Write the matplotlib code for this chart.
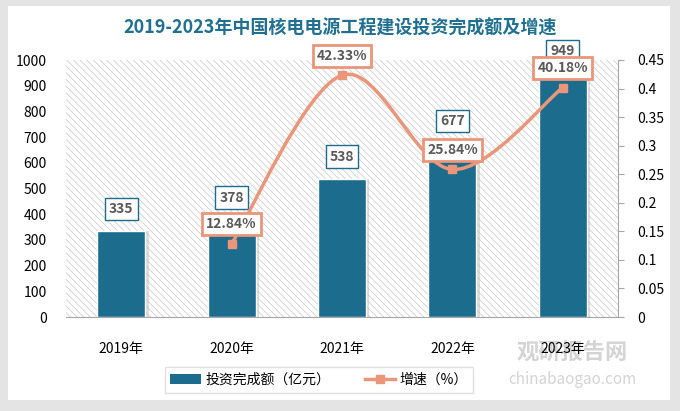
import numpy as np
import matplotlib.pyplot as plt
from matplotlib.patches import Rectangle, PathPatch, Patch
from matplotlib.path import Path
from matplotlib.lines import Line2D

plt.rcParams['font.family'] = ['Noto Sans CJK SC', 'DejaVu Sans']
plt.rcParams['hatch.linewidth'] = 0.6
plt.rcParams['hatch.color'] = '#D0D0D0'

years = ['2019年', '2020年', '2021年', '2022年', '2023年']
invest = [335, 378, 538, 677, 949]
growth = [None, 0.1284, 0.4233, 0.2584, 0.4018]
growth_labels = ['', '12.84%', '42.33%', '25.84%', '40.18%']

bar_color = '#1C6C8E'
line_color = '#E9967A'
text_gray = '#595959'

fig = plt.figure(figsize=(6.8, 4.11), dpi=100, facecolor='#E4E4E4')
# white card
fig.patches.append(Rectangle((8 / 680, 11 / 411), 662 / 680, 394 / 411,
                             transform=fig.transFigure, facecolor='white',
                             edgecolor='none', zorder=-5))

ax = fig.add_axes([66 / 680, 94 / 411, 552 / 680, 257 / 411])
ax.set_facecolor('white')
x = np.arange(len(years))
ax.set_xlim(-0.5, len(years) - 0.5)
ax.set_ylim(0, 1000)
ax.add_patch(Rectangle((0, 0), 1, 1, transform=ax.transAxes, facecolor='white',
                       edgecolor='#D0D0D0', linewidth=0, hatch='\\\\\\\\\\', zorder=0))

# bar shadows
ax.bar(x + 0.03, invest, width=0.435, color='#BBBBBB', alpha=0.5, zorder=1)
ax.bar(x, invest, width=0.435, color=bar_color, edgecolor='white', linewidth=1, zorder=2)
for xi, v in zip(x, invest):
    ax.annotate(str(v), (xi, v), xytext=(0, 16), textcoords='offset points',
                ha='center', va='center', fontsize=10, fontweight='bold', color=text_gray,
                bbox=dict(boxstyle='square,pad=0.3', facecolor='white',
                          edgecolor=bar_color, linewidth=1), zorder=6)

ax.set_yticks(np.arange(0, 1001, 100))
ax.set_xticks(x)
ax.set_xticklabels(years)
ax.tick_params(axis='y', length=0, labelsize=10, pad=14, colors='black')
ax.tick_params(axis='x', length=0, labelsize=10, pad=18)
for s in ['top', 'right', 'left']:
    ax.spines[s].set_visible(False)
ax.spines['bottom'].set_color('#A6A6A6')

ax2 = ax.twinx()
ax2.set_ylim(0, 0.45)
ax2.set_yticks(np.arange(0, 0.451, 0.05))
ax2.set_yticklabels(['0', '0.05', '0.1', '0.15', '0.2', '0.25', '0.3', '0.35', '0.4', '0.45'])
ax2.tick_params(axis='y', length=4, color='#A6A6A6', labelsize=10, pad=10)
for s in ['top', 'left', 'bottom']:
    ax2.spines[s].set_visible(False)
ax2.spines['right'].set_color('#A6A6A6')

# smoothed growth line (Catmull-Rom as Bezier)
gx = [xi for xi, g in zip(x, growth) if g is not None]
gy = [g for g in growth if g is not None]
pts = np.column_stack([gx, gy]).astype(float)
verts = [pts[0]]
codes = [Path.MOVETO]
for i in range(len(pts) - 1):
    p0 = pts[i - 1] if i > 0 else pts[i]
    p1, p2 = pts[i], pts[i + 1]
    p3 = pts[i + 2] if i + 2 < len(pts) else pts[i + 1]
    verts += [p1 + (p2 - p0) / 6, p2 - (p3 - p1) / 6, p2]
    codes += [Path.CURVE4] * 3
ax2.add_patch(PathPatch(Path(verts, codes), facecolor='none', edgecolor=line_color,
                        linewidth=2.5, zorder=4))
ax2.plot(gx, gy, linestyle='none', marker='s', markersize=6, color=line_color, zorder=5)
for xi, g, lab in zip(x, growth, growth_labels):
    if g is None:
        continue
    ax2.annotate(lab, (xi, g), xytext=(0, 14), textcoords='offset points',
                 ha='center', va='center', fontsize=10, fontweight='bold', color=text_gray,
                 bbox=dict(boxstyle='square,pad=0.3', facecolor='white',
                           edgecolor=line_color, linewidth=2), zorder=7)

fig.text(340 / 680, 1 - 28 / 411, '2019-2023年中国核电电源工程建设投资完成额及增速',
         ha='center', va='center', fontsize=13, fontweight='bold', color='#21708F')

# watermark
fig.text(572 / 680, 1 - 353 / 411, '观研报告网', ha='center', va='center',
         fontsize=16, fontweight='bold', color='#D4D4D4', zorder=-1)
fig.text(572 / 680, 1 - 379 / 411, 'chinabaogao.com', ha='center', va='center',
         fontsize=11, color='#D4D4D4', zorder=-1)

handles = [Patch(facecolor=bar_color, edgecolor='none'),
           Line2D([0], [0], color=line_color, linewidth=2.5, marker='s', markersize=6)]
leg = fig.legend(handles, ['投资完成额（亿元）', '增速（%）'], loc='center', ncol=2,
                 bbox_to_anchor=(319 / 680, 1 - 380 / 411), fontsize=10, frameon=True,
                 fancybox=False, edgecolor='#D9D9D9', handlelength=2.2, handletextpad=0.3,
                 columnspacing=2.5, borderpad=0.4)
leg.get_frame().set_linewidth(1)

fig.savefig('out.png', dpi=100, facecolor=fig.get_facecolor())
